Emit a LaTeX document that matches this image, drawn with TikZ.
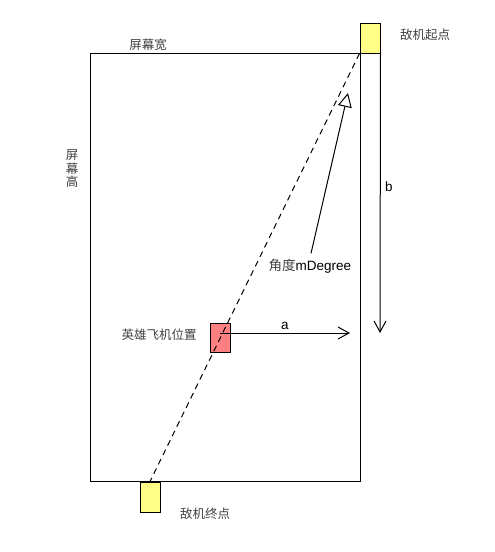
\documentclass[tikz,border=0pt]{standalone}
\usepackage{fontspec}
\setmainfont{Liberation Sans}
\newfontfamily\cjk{Noto Sans CJK SC}
\usetikzlibrary{arrows.meta}
\definecolor{boxyellow}{HTML}{FFFF88}
\definecolor{herored}{HTML}{FF8080}
\definecolor{txtgray}{HTML}{404040}
\begin{document}
\begin{tikzpicture}[x=1pt,y=-1pt,line width=1pt,
  box/.style={draw=black,rectangle,inner sep=0pt,minimum width=20pt,minimum height=30pt},
  cjklabel/.style={font=\cjk\fontsize{12.5}{14}\selectfont,text=txtgray,inner sep=1pt},
  latlabel/.style={font=\fontsize{13.5}{15}\selectfont,text=black,inner sep=1pt},
  vee/.style={-{Straight Barb[length=11pt,width=12pt,line width=1pt]}},
  tri/.style={-{Triangle[open,length=14pt,width=14pt,line width=1pt]}}]
\useasboundingbox (0,0) rectangle (495,552);
\node[draw=black,rectangle,inner sep=0pt,minimum width=270pt,minimum height=428pt] (screen) at (225,267) {};
\node[box,fill=boxyellow] (start) at (370,38) {};
\node[box,fill=boxyellow] (finish) at (150,497) {};
\node[box,fill=herored,minimum height=29pt] (hero) at (220,337.5) {};
\node[cjklabel] (startlbl) at (425,35) {敌机起点};
\node[cjklabel] (endlbl) at (205,514) {敌机终点};
\node[cjklabel] (wlbl) at (148,45) {屏幕宽};
\node[cjklabel,align=center,font=\cjk\fontsize{12.5}{13.5}\selectfont] (hlbl) at (72,169) {屏\\幕\\高};
\node[cjklabel] (herolbl) at (159,335) {英雄飞机位置};
\node[latlabel] (deg) at (310,266) {{\cjk\color{txtgray}角度}mDegree};
\node[latlabel] (alabel) at (285,326) {a};
\node[latlabel] (blabel) at (389,187) {b};
\coordinate (bend) at (380,333);
\coordinate (aend) at (350,333);
\coordinate (degtip) at (348,93);
\draw[dashed,dash pattern=on 6pt off 4.5pt] (start.south west) -- (finish.north);
\draw[vee] (start.south east) -- (bend);
\draw[vee] (hero.center |- aend) -- (aend);
\draw[tri] ([xshift=1pt,yshift=4pt]deg.north) -- (degtip);
\end{tikzpicture}
\end{document}
